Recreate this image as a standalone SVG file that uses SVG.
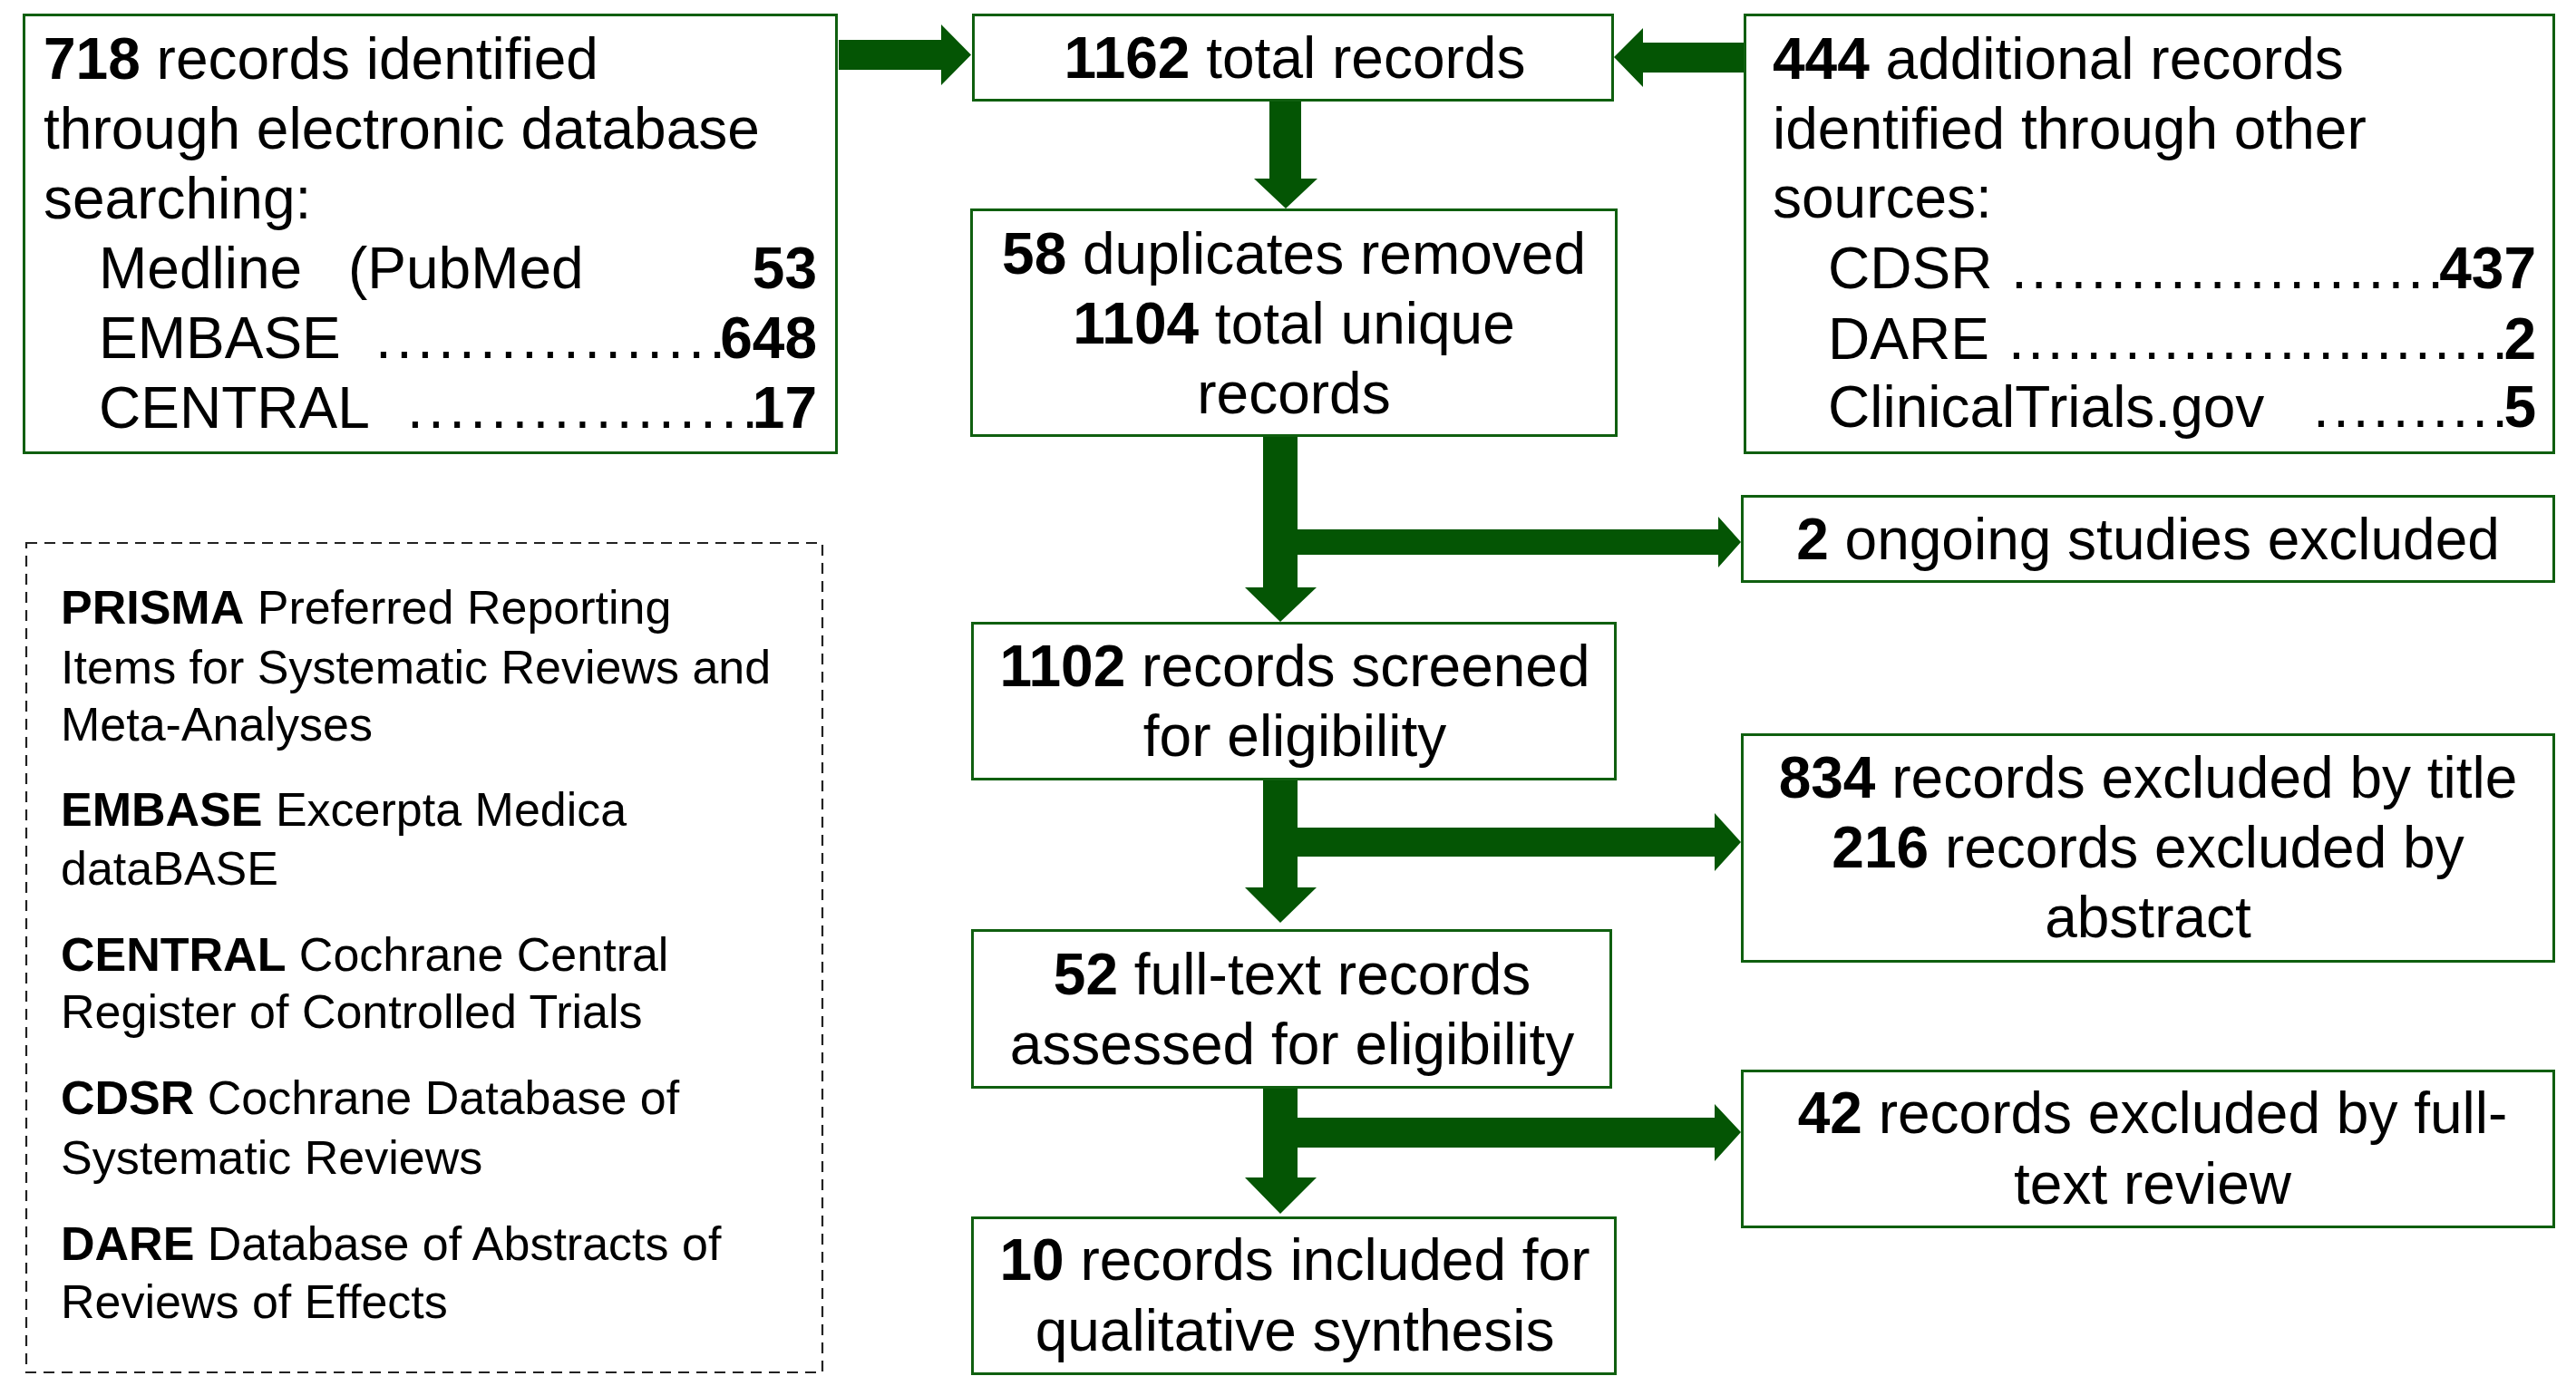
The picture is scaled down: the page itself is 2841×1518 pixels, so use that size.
<svg xmlns="http://www.w3.org/2000/svg" width="2841" height="1518" viewBox="0 0 2841 1518">
<style>
.box{fill:#fff;stroke:#0f5f0f;stroke-width:3}
.leg{fill:#fff;stroke:#222;stroke-width:2.2;stroke-dasharray:12 8}
.arr{fill:#045504}
text{font-family:"Liberation Sans",Arial,sans-serif;font-size:64px;fill:#000}
.b{font-weight:bold}
.c{text-anchor:middle}
.e{text-anchor:end}
.l{font-size:52px}
</style>
<rect width="2841" height="1518" fill="#fff"/>
<g id="node-database">
<rect class="box" x="26.5" y="16.5" width="896" height="483"/>
<text x="48" y="87"><tspan class="b">718</tspan> records identified</text>
<text x="48" y="164">through electronic database</text>
<text x="48" y="241">searching:</text>
<text x="109" y="318">Medline</text>
<text x="384" y="318">(PubMed</text>
<text class="b e" x="901" y="318">53</text>
<text x="109" y="395">EMBASE</text>
<text x="414" y="395" textLength="386" lengthAdjust="spacing">.................</text>
<text class="b e" x="901" y="395">648</text>
<text x="109" y="472">CENTRAL</text>
<text x="449" y="472" textLength="387" lengthAdjust="spacing">.................</text>
<text class="b e" x="901" y="472">17</text>
</g>
<g id="node-total">
<rect class="box" x="1073.5" y="16.5" width="705" height="94"/>
<text class="c" x="1428" y="86"><tspan class="b">1162</tspan> total records</text>
</g>
<g id="node-other">
<rect class="box" x="1924.5" y="16.5" width="892" height="483"/>
<text x="1955" y="87"><tspan class="b">444</tspan> additional records</text>
<text x="1955" y="164">identified through other</text>
<text x="1955" y="240">sources:</text>
<text x="2016" y="318">CDSR</text>
<text x="2218" y="318" textLength="477" lengthAdjust="spacing">......................</text>
<text class="b e" x="2797" y="318">437</text>
<text x="2016" y="396">DARE</text>
<text x="2215" y="396" textLength="551" lengthAdjust="spacing">..........................</text>
<text class="b e" x="2797" y="396">2</text>
<text x="2016" y="471">ClinicalTrials.gov</text>
<text x="2551" y="471" textLength="215" lengthAdjust="spacing">..........</text>
<text class="b e" x="2797" y="471">5</text>
</g>
<g id="node-duplicates">
<rect class="box" x="1071.5" y="231.5" width="711" height="249"/>
<text class="c" x="1427" y="302"><tspan class="b">58</tspan> duplicates removed</text>
<text class="c" x="1427" y="379"><tspan class="b">1104</tspan> total unique</text>
<text class="c" x="1427" y="456">records</text>
</g>
<g id="node-ongoing">
<rect class="box" x="1921.5" y="547.5" width="895" height="94"/>
<text class="c" x="2369" y="617"><tspan class="b">2</tspan> ongoing studies excluded</text>
</g>
<g id="node-screened">
<rect class="box" x="1072.5" y="687.5" width="709" height="172"/>
<text class="c" x="1428" y="757"><tspan class="b">1102</tspan> records screened</text>
<text class="c" x="1428" y="834">for eligibility</text>
</g>
<g id="node-title-abstract">
<rect class="box" x="1921.5" y="810.5" width="895" height="250"/>
<text class="c" x="2369" y="880"><tspan class="b">834</tspan> records excluded by title</text>
<text class="c" x="2369" y="957"><tspan class="b">216</tspan> records excluded by</text>
<text class="c" x="2369" y="1034">abstract</text>
</g>
<g id="node-fulltext">
<rect class="box" x="1072.5" y="1026.5" width="704" height="173"/>
<text class="c" x="1425" y="1097"><tspan class="b">52</tspan> full-text records</text>
<text class="c" x="1425" y="1174">assessed for eligibility</text>
</g>
<g id="node-fulltext-excluded">
<rect class="box" x="1921.5" y="1181.5" width="895" height="172"/>
<text class="c" x="2374" y="1250"><tspan class="b">42</tspan> records excluded by full-</text>
<text class="c" x="2374" y="1328">text review</text>
</g>
<g id="node-included">
<rect class="box" x="1072.5" y="1343.5" width="709" height="172"/>
<text class="c" x="1428" y="1412"><tspan class="b">10</tspan> records included for</text>
<text class="c" x="1428" y="1490">qualitative synthesis</text>
</g>
<g id="legend">
<rect class="leg" x="29" y="599" width="878" height="915"/>
<text class="l" x="67" y="688"><tspan class="b">PRISMA</tspan> Preferred Reporting</text>
<text class="l" x="67" y="754">Items for Systematic Reviews and</text>
<text class="l" x="67" y="817">Meta-Analyses</text>
<text class="l" x="67" y="911"><tspan class="b">EMBASE</tspan> Excerpta Medica</text>
<text class="l" x="67" y="976">dataBASE</text>
<text class="l" x="67" y="1071"><tspan class="b">CENTRAL</tspan> Cochrane Central</text>
<text class="l" x="67" y="1134">Register of Controlled Trials</text>
<text class="l" x="67" y="1229"><tspan class="b">CDSR</tspan> Cochrane Database of</text>
<text class="l" x="67" y="1295">Systematic Reviews</text>
<text class="l" x="67" y="1390"><tspan class="b">DARE</tspan> Database of Abstracts of</text>
<text class="l" x="67" y="1454">Reviews of Effects</text>
</g>
<g id="connectors">
<polygon class="arr" points="925,44 1038,44 1038,27 1071,60.5 1038,94 1038,77 925,77"/>
<polygon class="arr" points="1923,47 1812,47 1812,31 1780,63 1812,96 1812,80 1923,80"/>
<polygon class="arr" points="1400,112 1435,112 1435,197 1453,197 1418,230 1383,197 1400,197"/>
<polygon class="arr" points="1393,482 1431,482 1431,584 1895,584 1895,570 1920,598 1895,626 1895,612 1431,612 1431,648 1452,648 1412,686 1373,648 1393,648"/>
<polygon class="arr" points="1393,861 1431,861 1431,913 1891,913 1891,897 1920,929 1891,961 1891,945 1431,945 1431,979 1452,979 1412,1018 1373,979 1393,979"/>
<polygon class="arr" points="1393,1201 1431,1201 1431,1233 1891,1233 1891,1218 1920,1249 1891,1281 1891,1266 1431,1266 1431,1299 1452,1299 1412,1339 1373,1299 1393,1299"/>
</g>
</svg>
